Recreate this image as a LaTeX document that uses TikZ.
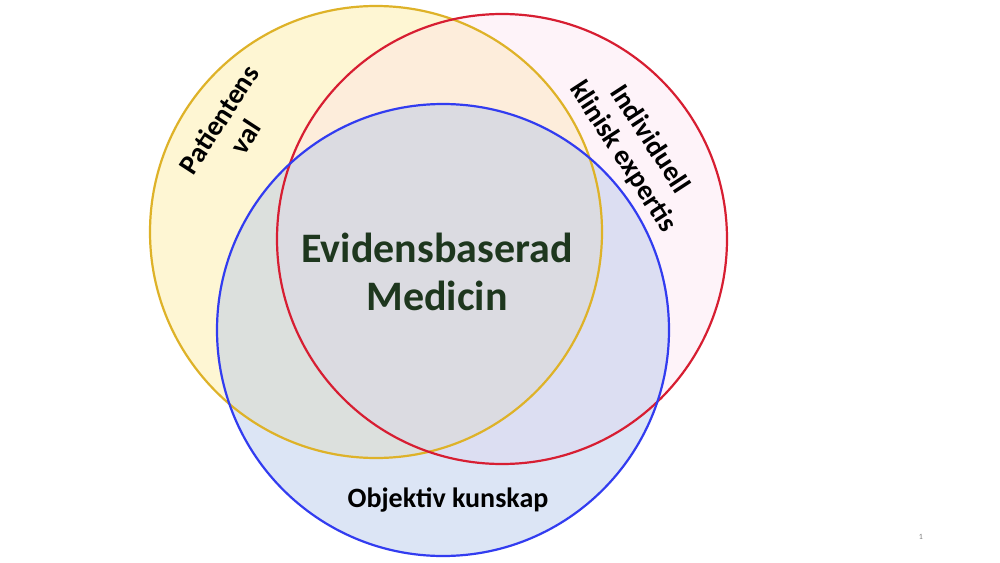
\documentclass[tikz,border=0pt]{standalone}
\usepackage{fontspec}
\setmainfont{Carlito}
\begin{document}
\begin{tikzpicture}[x=1pt,y=-1pt,
  lab/.style={font=\bfseries\fontsize{28}{32}\selectfont, align=center, text=black}]
\useasboundingbox[fill=white] (0,0) rectangle (1000,562);
\fill[yellow!70!orange!30, opacity=0.55] (376,232) circle (226);
\fill[magenta!15, opacity=0.3] (502,239) circle (225);
\fill[cyan!50!blue!30, opacity=0.45] (443,330) circle (226);
\draw[line width=2.2pt, color={rgb,255:red,222;green,178;blue,40}] (376,232) circle (226);
\draw[line width=2.2pt, color={rgb,255:red,215;green,30;blue,50}] (502,239) circle (225);
\draw[line width=2.2pt, color={rgb,255:red,50;green,60;blue,240}] (443,330) circle (226);
\node[font=\bfseries\fontsize{42}{48}\selectfont, text={rgb,255:red,30;green,55;blue,30}, align=center] (ebm) at (437,272) {Evidensbaserad\\Medicin};
\node[lab, rotate=57] (pv) at (232,128) {Patientens\\val};
\node[lab, rotate=-57] (ike) at (636,148) {Individuell\\klinisk expertis};
\node[lab] (ok) at (448,500) {Objektiv kunskap};
\node[font=\fontsize{8}{9}\selectfont, text=gray] (pg) at (921,537) {1};
\end{tikzpicture}
\end{document}
